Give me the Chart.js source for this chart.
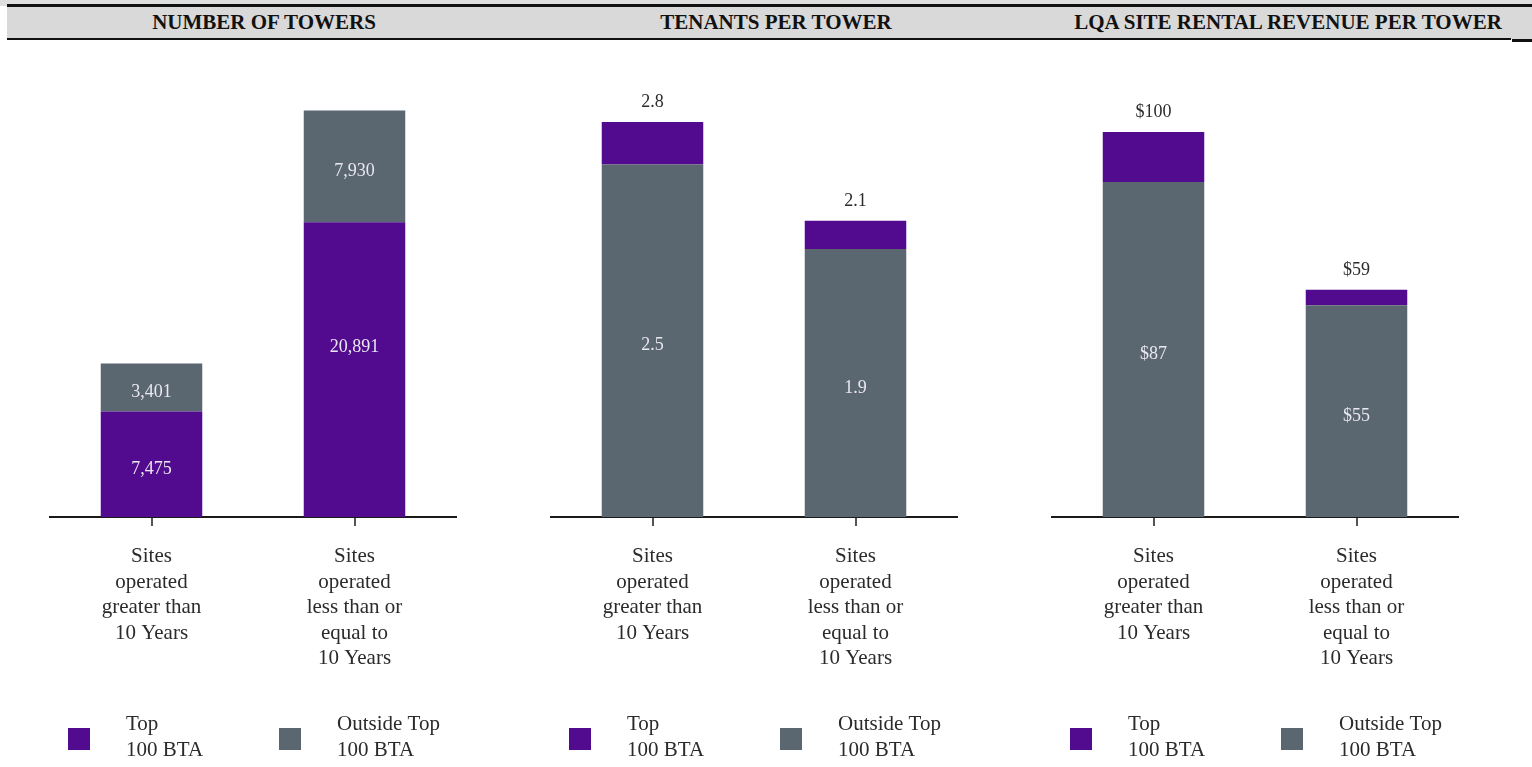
<!DOCTYPE html>
<html>
<head>
<meta charset="utf-8">
<title>Tower portfolio by site age</title>
<script src="https://cdn.jsdelivr.net/npm/chart.js@4.4.1/dist/chart.umd.min.js"></script>
<style>
  html, body { margin: 0; padding: 0; background: #fff; }
  body { width: 1532px; height: 767px; position: relative; overflow: hidden;
         font-family: "Liberation Serif", "Times New Roman", serif; }
  #topStrip { position: absolute; left: 0; top: 0; width: 1532px; height: 6px; background: #dedede; }
  #band { position: absolute; left: 7px; top: 6px; width: 1525px; height: 33px; background: #d9d9d9; }
  #topRule { position: absolute; left: 7px; top: 4px; width: 1525px; height: 3px; background: #111; }
  #bottomRule { position: absolute; left: 7px; top: 38px; width: 1504px; height: 2px; background: #111; }
  #bottomRuleEnd { position: absolute; left: 1512px; top: 39px; width: 20px; height: 3px; background: #111; }
  .title { position: absolute; top: 10px; font-weight: bold; font-size: 21px; line-height: 24px;
           color: #111; white-space: nowrap; transform: translateX(-50%); }
  .panel { position: absolute; top: 40px; width: 501px; height: 727px; }
  .panel canvas { display: block; }
</style>
</head>
<body>
<div id="topStrip"></div>
<div id="band"></div>
<div id="topRule"></div>
<div id="bottomRule"></div>
<div id="bottomRuleEnd"></div>
<div id="titles"></div>
<div class="panel" style="left:0px"><canvas id="towers" width="501" height="727"></canvas></div>
<div class="panel" style="left:501px"><canvas id="tenants" width="501" height="727"></canvas></div>
<div class="panel" style="left:1002px"><canvas id="revenue" width="501" height="727"></canvas></div>

<script>
// ---- data ----
const titles = ["NUMBER OF TOWERS", "TENANTS PER TOWER", "LQA SITE RENTAL REVENUE PER TOWER"];

const categories = [
  ["Sites", "operated", "greater than", "10 Years"],
  ["Sites", "operated", "less than or", "equal to", "10 Years"]
];

const legendTop = ["Top", "100 BTA"];
const legendOutside = ["Outside Top", "100 BTA"];

const towersTop = [7475, 20891];
const towersOutside = [3401, 7930];

const tenantsOutside = [2.5, 1.9];
const tenantsTotal = [2.8, 2.1];

const revenueOutside = [87, 55];
const revenueTotal = [100, 59];

// ---- styling ----
const PURPLE = "#520b8f";
const SLATE = "#5a6670";
const SERIF = "'Liberation Serif', 'Times New Roman', serif";

// header titles, centred over each panel
const titleCentres = [264, 776, 1288];
const titleBox = document.getElementById("titles");
titles.forEach((t, i) => {
  const d = document.createElement("div");
  d.className = "title";
  d.style.left = titleCentres[i] + "px";
  d.textContent = t;
  titleBox.appendChild(d);
});

const fmtInt = v => v.toLocaleString("en-US");
const fmtOne = v => v.toFixed(1);
const fmtDollar = v => "$" + Math.round(v);

// Value labels: inside chosen segments, plus optional stack totals above bars
const valueLabels = {
  id: "valueLabels",
  afterDatasetsDraw(chart, args, opts) {
    const ctx = chart.ctx;
    ctx.save();
    ctx.textAlign = "center";
    ctx.textBaseline = "middle";
    ctx.font = "18px " + SERIF;
    (opts.inner || []).forEach(dsIndex => {
      const meta = chart.getDatasetMeta(dsIndex);
      const ds = chart.data.datasets[dsIndex];
      meta.data.forEach((bar, i) => {
        const nudge = (opts.nudge && opts.nudge[dsIndex + "-" + i]) || 0;
        const y = (bar.y + bar.base) / 2 + 5 + nudge;
        ctx.fillStyle = "#e9e7f0";
        ctx.fillText(opts.format(ds.data[i]), bar.x, y);
      });
    });
    if (opts.totals) {
      const topMeta = chart.getDatasetMeta(chart.data.datasets.length - 1);
      topMeta.data.forEach((bar, i) => {
        ctx.fillStyle = "#2b2b2b";
        ctx.fillText(opts.format(opts.totals[i]), bar.x, bar.y - 20);
      });
    }
    ctx.restore();
  }
};

// Two-line legend drawn beneath the category labels
const squareLegend = {
  id: "squareLegend",
  afterDraw(chart) {
    const ctx = chart.ctx;
    const area = chart.chartArea;
    const items = chart.data.datasets.slice().sort((a, b) => a.legendRank - b.legendRank);
    ctx.save();
    ctx.font = "21px " + SERIF;
    ctx.textAlign = "left";
    ctx.textBaseline = "middle";
    items.forEach((ds, k) => {
      const x = area.left + 18 + k * 211;
      ctx.fillStyle = ds.backgroundColor;
      ctx.fillRect(x, area.bottom + 211, 22, 22);
      ctx.fillStyle = "#2b2b2b";
      ds.legendLines.forEach((line, j) => {
        ctx.fillText(line, x + 58, area.bottom + 207 + j * 26);
      });
    });
    ctx.restore();
  }
};

function topSeries(data) {
  return { label: "Top 100 BTA", legendLines: legendTop, legendRank: 0, data,
           backgroundColor: PURPLE, barPercentage: 0.5, categoryPercentage: 1.0 };
}
function outsideSeries(data) {
  return { label: "Outside Top 100 BTA", legendLines: legendOutside, legendRank: 1, data,
           backgroundColor: SLATE, barPercentage: 0.5, categoryPercentage: 1.0 };
}

function build(id, datasets, yMax, labelOpts) {
  return new Chart(document.getElementById(id), {
    type: "bar",
    data: { labels: categories, datasets },
    plugins: [valueLabels, squareLegend],
    options: {
      responsive: false,
      animation: false,
      events: [],
      layout: { padding: { left: 50, right: 45, top: 20, bottom: 80 } },
      plugins: {
        legend: { display: false },
        tooltip: { enabled: false },
        valueLabels: labelOpts
      },
      scales: {
        x: {
          stacked: true,
          grid: { display: true, drawOnChartArea: false, drawTicks: true, tickLength: 9,
                  offset: false, color: "#555", lineWidth: 2 },
          border: { display: true, color: "#1a1a1a", width: 2 },
          ticks: { color: "#2b2b2b", padding: 18, maxRotation: 0, autoSkip: false,
                   font: { family: SERIF, size: 21, lineHeight: 1.214 } },
          afterFit(scale) { scale.height = 170; }
        },
        y: { stacked: true, display: false, min: 0, max: yMax }
      }
    }
  });
}

build("towers",
  [topSeries(towersTop), outsideSeries(towersOutside)],
  32400,
  { inner: [0, 1], format: fmtInt, nudge: { "0-1": -27 } });

const tenantsTop = tenantsTotal.map((t, i) => +(t - tenantsOutside[i]).toFixed(2));
build("tenants",
  [outsideSeries(tenantsOutside), topSeries(tenantsTop)],
  3.24,
  { inner: [0], totals: tenantsTotal, format: fmtOne });

const revenueTop = revenueTotal.map((t, i) => t - revenueOutside[i]);
build("revenue",
  [outsideSeries(revenueOutside), topSeries(revenueTop)],
  118.7,
  { inner: [0], totals: revenueTotal, format: fmtDollar });
</script>
</body>
</html>
